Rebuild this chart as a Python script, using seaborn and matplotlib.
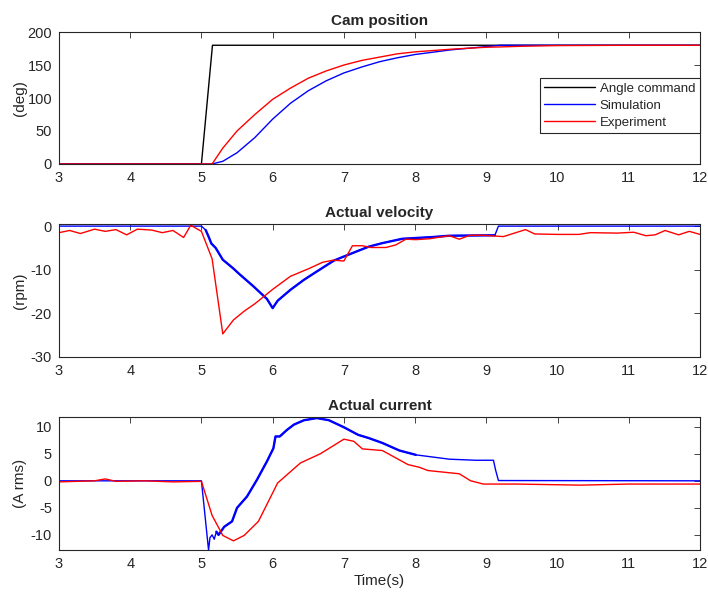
import numpy as np
import matplotlib
matplotlib.use("Agg")
import matplotlib.pyplot as plt
import seaborn as sns

# Cam position
t_cmd = [3, 5.0, 5.155, 12]
cmd_pos = [0, 0, 180, 180]

t_pos = [3, 5.15, 5.3, 5.5, 5.75, 6.0, 6.25, 6.5, 6.75, 7.0, 7.25, 7.5, 7.75,
         8.0, 8.5, 9.0, 9.2, 9.5, 10, 11, 12]
sim_pos = [0, 0, 4, 17, 40, 68, 92, 111, 126, 138, 147, 155, 161,
           166, 173, 178, 180, 180, 180, 180, 180]
exp_pos = [0, 0, 24, 50, 75, 98, 115, 130, 141, 150, 157, 162, 167,
           170, 174, 177, 177.5, 178.5, 179.5, 180, 180]

# Actual velocity
t_vs = [3, 5.0, 5.06, 5.1, 5.14, 5.2, 5.3, 5.44, 5.54, 5.73, 5.92, 6.0, 6.07,
        6.25, 6.44, 6.62, 6.86, 7.01, 7.35, 7.54, 7.82, 8.25, 8.48, 9.12, 9.17, 12]
sim_vel = [0, 0, -0.9, -2.4, -4, -5, -7.7, -9.6, -11.1, -13.8, -16.7, -18.8, -17.1,
           -14.6, -12.3, -10.4, -7.9, -6.9, -4.7, -3.9, -2.9, -2.5, -2.2, -2.1, 0, 0]

t_ve = [3, 3.15, 3.3, 3.5, 3.65, 3.8, 3.95, 4.1, 4.3, 4.45,
        4.6, 4.75, 4.85, 5.0, 5.15, 5.3, 5.45, 5.6, 5.75, 6.0,
        6.25, 6.5, 6.7, 6.85, 7.0, 7.12, 7.26, 7.38, 7.59, 7.73,
        7.87, 8.01, 8.2, 8.48, 8.62, 8.77, 8.96, 9.24, 9.55, 9.68,
        10.0, 10.3, 10.46, 10.84, 11.07, 11.24, 11.37, 11.51, 11.7, 11.85, 12]
exp_vel = [-1.5, -1.0, -1.7, -0.7, -1.2, -0.8, -2.0, -0.7, -0.9, -1.5,
           -1.0, -2.6, 0.2, -1.2, -7.5, -24.7, -21.5, -19.5, -17.8, -14.5,
           -11.5, -9.8, -8.3, -7.8, -8.0, -4.5, -4.5, -4.9, -4.9, -4.3,
           -3.0, -3.1, -2.9, -2.2, -3.0, -2.1, -2.1, -2.4, -0.8, -1.8,
           -1.9, -1.9, -1.5, -1.6, -1.4, -2.2, -2.0, -1.0, -2.0, -1.2, -1.9]

# Actual current
t_cs = [3, 5.0, 5.1, 5.12, 5.15, 5.18, 5.21, 5.24, 5.32, 5.43,
        5.5, 5.64, 5.78, 5.92, 6.01, 6.04, 6.1, 6.2, 6.3, 6.44,
        6.62, 6.79, 7.0, 7.2, 7.35, 7.54, 7.78, 8.01, 8.48, 8.85,
        9.1, 9.13, 9.17, 12]
sim_cur = [0, 0, -12.8, -10.5, -10, -10.8, -9.4, -10, -8.5, -7.5,
           -5, -2.9, 0.2, 3.6, 6, 8.2, 8.2, 9.4, 10.4, 11.2,
           11.6, 11.2, 9.9, 8.5, 7.9, 7.0, 5.6, 4.8, 4.0, 3.8,
           3.8, 2.0, 0.05, 0]

t_ce = [3, 3.5, 3.65, 3.8, 4.2, 4.6, 5.0, 5.15, 5.3, 5.45,
        5.6, 5.8, 6.07, 6.39, 6.67, 7.0, 7.14, 7.26, 7.54, 7.9,
        8.06, 8.18, 8.62, 8.78, 8.96, 9.42, 10.32, 11.0, 12]
exp_cur = [-0.2, 0.0, 0.35, -0.1, 0.0, -0.2, -0.1, -6.4, -10.1, -11.1,
           -10.1, -7.5, -0.4, 3.3, 5.0, 7.7, 7.3, 5.9, 5.6, 3.0,
           2.5, 1.9, 1.3, 0.0, -0.6, -0.6, -0.8, -0.6, -0.6]

sns.set_style("white")
plt.rcParams['font.family'] = ['Liberation Sans', 'DejaVu Sans']
plt.rcParams['axes.unicode_minus'] = False
dark = '#262626'

fig = plt.figure(figsize=(7.08, 5.94), dpi=100)
ax1 = fig.add_axes([0.0833, 0.724, 0.9054, 0.222])
ax2 = fig.add_axes([0.0833, 0.399, 0.9054, 0.224])
ax3 = fig.add_axes([0.0833, 0.074, 0.9054, 0.224])


def thick_part(ax, t, y, lo, hi, lw=1.7):
    t = np.array(t)
    y = np.array(y)
    m = (t >= lo) & (t <= hi)
    sns.lineplot(x=t[m], y=y[m], ax=ax, color='blue', lw=lw, sort=False)


# top
sns.lineplot(x=t_cmd, y=cmd_pos, ax=ax1, color='black', lw=1, label='Angle command', sort=False)
sns.lineplot(x=t_pos, y=sim_pos, ax=ax1, color='blue', lw=1, label='Simulation', sort=False)
sns.lineplot(x=t_pos, y=exp_pos, ax=ax1, color='red', lw=1, label='Experiment', sort=False)
ax1.set_ylim(0, 200)
ax1.set_yticks([0, 50, 100, 150, 200])
ax1.set_title('Cam position', fontsize=11, fontweight='bold', pad=5)
ax1.set_ylabel('(deg)', fontsize=11, color=dark)
leg = ax1.legend(loc='upper right', bbox_to_anchor=(1.0, 0.652), borderaxespad=0,
                 fontsize=9.5, fancybox=False, framealpha=1, edgecolor=dark,
                 handlelength=3.8, handletextpad=0.4, labelspacing=0.35,
                 borderpad=0.35)
leg.get_frame().set_linewidth(0.8)

# middle
sns.lineplot(x=t_vs, y=sim_vel, ax=ax2, color='blue', lw=1, sort=False)
thick_part(ax2, t_vs, sim_vel, 5.05, 9.12)
sns.lineplot(x=t_ve, y=exp_vel, ax=ax2, color='red', lw=1, sort=False)
ax2.set_ylim(-30, 0.5)
ax2.set_yticks([-30, -20, -10, 0])
ax2.set_title('Actual velocity', fontsize=11, fontweight='bold', pad=5)
ax2.set_ylabel('(rpm)', fontsize=11, color=dark)

# bottom
sns.lineplot(x=t_cs, y=sim_cur, ax=ax3, color='blue', lw=1, sort=False)
thick_part(ax3, t_cs, sim_cur, 5.2, 8.01)
sns.lineplot(x=t_ce, y=exp_cur, ax=ax3, color='red', lw=1, sort=False)
ax3.set_ylim(-12.8, 11.8)
ax3.set_yticks([-10, -5, 0, 5, 10])
ax3.set_title('Actual current', fontsize=11, fontweight='bold', pad=5)
ax3.set_ylabel('(A rms)', fontsize=11, color=dark)
ax3.set_xlabel('Time(s)', fontsize=11, color=dark, labelpad=2)

for ax in (ax1, ax2, ax3):
    ax.set_xlim(3, 12)
    ax.set_xticks(range(3, 13))
    ax.tick_params(direction='in', top=True, right=True, length=4, width=0.6,
                   labelsize=10.5, colors=dark, pad=5)
    for s in ax.spines.values():
        s.set_visible(True)
        s.set_color(dark)
        s.set_linewidth(0.8)
    ax.yaxis.set_label_coords(-0.05, 0.5)

fig.savefig('out.png', dpi=100)
